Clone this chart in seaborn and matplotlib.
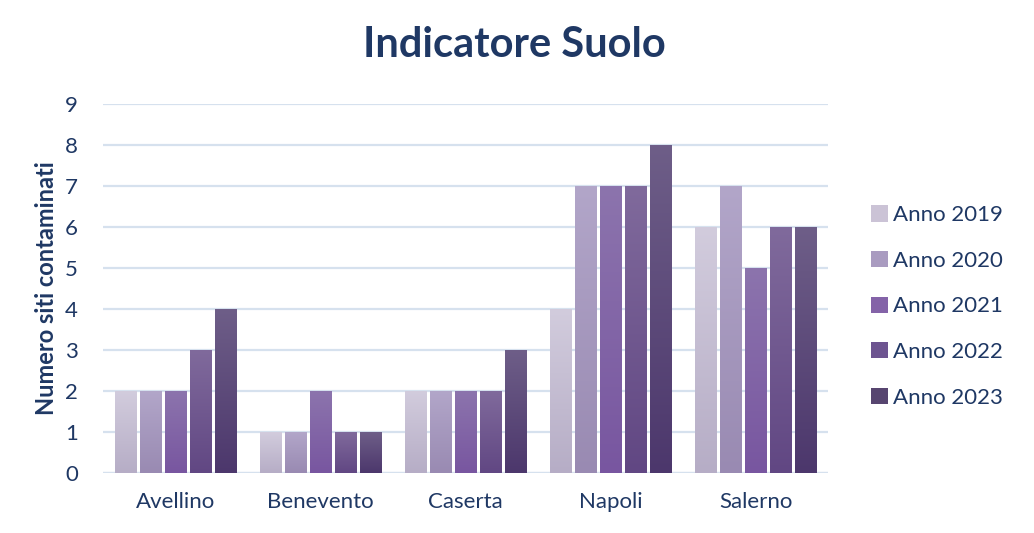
import numpy as np
import pandas as pd
import matplotlib
matplotlib.use("Agg")
import matplotlib.pyplot as plt
from matplotlib.colors import LinearSegmentedColormap
from matplotlib.patches import Patch
import seaborn as sns

provinces = ["Avellino", "Benevento", "Caserta", "Napoli", "Salerno"]
years = ["Anno 2019", "Anno 2020", "Anno 2021", "Anno 2022", "Anno 2023"]
v2019 = [2, 1, 2, 4, 6]
v2020 = [2, 1, 2, 7, 7]
v2021 = [2, 2, 2, 7, 5]
v2022 = [3, 1, 2, 7, 6]
v2023 = [4, 1, 3, 8, 6]
yticks = list(range(0, 10))

top_colors = ["#d2ccdd", "#b2a6c9", "#8c74ad", "#806a9c", "#6e5e88"]
bot_colors = ["#b6adc6", "#998ab2", "#7856a0", "#614783", "#4c376c"]
legend_colors = ["#cbc3d6", "#a99bc0", "#8463a8", "#6d5490", "#574570"]

rows = []
for yr, vals in zip(years, [v2019, v2020, v2021, v2022, v2023]):
    for p, v in zip(provinces, vals):
        rows.append({"Provincia": p, "Anno": yr, "Valore": v})
df = pd.DataFrame(rows)

sns.set_theme(style="white")
plt.rcParams["font.family"] = ["Lato", "DejaVu Sans"]
navy = "#1f3864"

fig = plt.figure(figsize=(10.34, 5.33), dpi=100)
ax = fig.add_axes([0.0996, 0.1126, 0.7016, 0.6923])

sns.barplot(data=df, x="Provincia", y="Valore", hue="Anno", order=provinces,
            hue_order=years, palette=legend_colors, width=0.86, gap=0.15,
            dodge=True, ax=ax, legend=False, zorder=3)

ax.set_xlim(-0.5, 4.5)
ax.set_ylim(0, 9)

# gradient fills clipped to each bar
for i, cont in enumerate(ax.containers):
    cmap = LinearSegmentedColormap.from_list(f"g{i}", [bot_colors[i], top_colors[i]])
    for bar in cont:
        x, y = bar.get_x(), bar.get_y()
        w, h = bar.get_width(), bar.get_height()
        grad = np.linspace(0, 1, 256).reshape(-1, 1)
        im = ax.imshow(grad, cmap=cmap, origin="lower", aspect="auto",
                       extent=[x, x + w, y, y + h], zorder=3)
        im.set_clip_path(bar)
        bar.set_facecolor("none")
        bar.set_edgecolor("none")
ax.set_xlim(-0.5, 4.5)
ax.set_ylim(0, 9)

ax.set_yticks(yticks)
ax.yaxis.grid(True, color="#d6e1ee", linewidth=1.6, zorder=0)
ax.xaxis.grid(False)
for s in ax.spines.values():
    s.set_visible(False)
ax.axhline(0, color="#d6e1ee", linewidth=1.6, zorder=1)
ax.tick_params(axis="both", length=0, labelsize=16, labelcolor=navy)
ax.tick_params(axis="x", pad=14)
ax.tick_params(axis="y", pad=18)
ax.set_xlabel("")
ax.set_ylabel("Numero siti contaminati", fontsize=17, fontweight="bold",
              color=navy, labelpad=5)

fig.text(0.497, 0.915, "Indicatore Suolo", ha="center", va="center",
         fontsize=30, fontweight="bold", color=navy)

handles = [Patch(facecolor=c, edgecolor="none") for c in legend_colors]
leg = fig.legend(handles, years, loc="center left", bbox_to_anchor=(0.823, 0.425),
                 frameon=False, fontsize=16, labelspacing=1.15,
                 handlelength=0.75, handleheight=0.75, handletextpad=0.25)
for t in leg.get_texts():
    t.set_color(navy)

fig.savefig("out.png", dpi=100)
